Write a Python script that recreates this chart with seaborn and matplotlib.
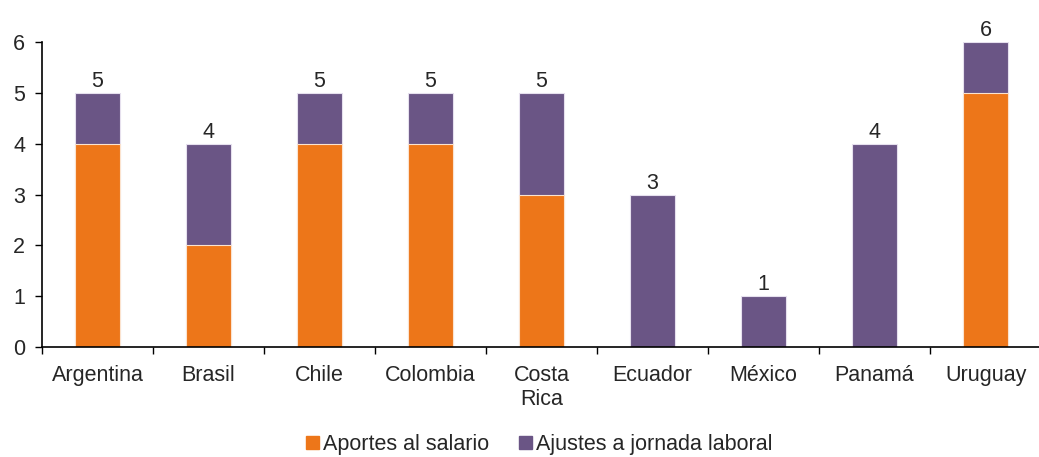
import seaborn as sns
import pandas as pd
import matplotlib.pyplot as plt
from matplotlib.patches import Patch

# Data
paises = ['Argentina', 'Brasil', 'Chile', 'Colombia', 'Costa\nRica',
          'Ecuador', 'México', 'Panamá', 'Uruguay']
aportes = [4, 2, 4, 4, 3, 0, 0, 0, 5]
ajustes = [1, 2, 1, 1, 2, 3, 1, 4, 1]

orange = '#ED7619'
purple = '#6A5585'

df = pd.DataFrame({'pais': paises, 'aportes': aportes, 'ajustes': ajustes})
df['total'] = df['aportes'] + df['ajustes']

sns.set_style('white')
plt.rcParams['font.family'] = ['Liberation Sans', 'DejaVu Sans']

fs = 15.5

fig = plt.figure(figsize=(10.39, 4.57), dpi=100)
ax = fig.add_axes([0.0404, 0.2407, 0.9616, 0.6673])

# total bars in purple, orange part drawn over them
sns.barplot(data=df, x='pais', y='total', color=purple, saturation=1,
            width=0.41, edgecolor='#E6E0EE', linewidth=0.8, ax=ax)
sns.barplot(data=df, x='pais', y='aportes', color=orange, saturation=1,
            width=0.41, edgecolor='#FBE3CF', linewidth=0.8, ax=ax)

# total labels over each bar
for i, t in enumerate(df['total']):
    ax.text(i, t + 0.02, str(t), ha='center', va='bottom', fontsize=fs,
            clip_on=False)

ax.set_xlim(-0.5, 8.5)
ax.set_ylim(0, 6)
ax.set_yticks(range(0, 7))
ax.set_xlabel('')
ax.set_ylabel('')

for s in ['top', 'right']:
    ax.spines[s].set_visible(False)
for s in ['left', 'bottom']:
    ax.spines[s].set_color('black')
    ax.spines[s].set_linewidth(1.2)

ax.tick_params(axis='y', which='major', direction='out', length=5, width=1,
               color='black', labelsize=fs, left=True, pad=7)
ax.tick_params(axis='x', which='major', length=0, labelsize=fs, pad=13)
ax.set_xticks([i + 0.5 for i in range(-1, 9)], minor=True)
ax.tick_params(axis='x', which='minor', direction='out', length=5, width=1,
               color='black', bottom=True)

handles = [Patch(color=orange, label='Aportes al salario'),
           Patch(color=purple, label='Ajustes a jornada laboral')]
fig.legend(handles=handles, loc='center', bbox_to_anchor=(0.519, 0.027),
           ncol=2, frameon=False, fontsize=fs, handlelength=0.6,
           handleheight=0.6, handletextpad=0.2, columnspacing=1.4)

plt.savefig('out.png', dpi=100)
